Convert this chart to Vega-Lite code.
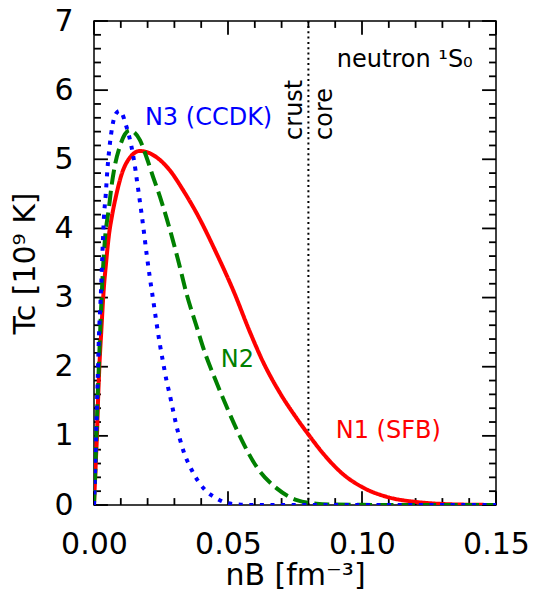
{
  "$schema": "https://vega.github.io/schema/vega-lite/v6.json",
  "width": 402,
  "height": 484,
  "autosize": "none",
  "padding": {"left": 94, "top": 21, "right": 38, "bottom": 89},
  "background": "white",
  "config": {
    "view": {"stroke": "black", "strokeWidth": 1.5},
    "font": "DejaVu Sans"
  },
  "datasets": {
    "curves": [
      {"n": 0, "T": 0, "model": "N1"},
      {"n": 0.0002, "T": 0.2, "model": "N1"},
      {"n": 0.0004, "T": 0.36, "model": "N1"},
      {"n": 0.0007, "T": 0.65, "model": "N1"},
      {"n": 0.0011, "T": 1.0, "model": "N1"},
      {"n": 0.0015, "T": 1.5, "model": "N1"},
      {"n": 0.002, "T": 2.0, "model": "N1"},
      {"n": 0.0027, "T": 2.5, "model": "N1"},
      {"n": 0.0036, "T": 3.1, "model": "N1"},
      {"n": 0.0045, "T": 3.5, "model": "N1"},
      {"n": 0.0055, "T": 3.88, "model": "N1"},
      {"n": 0.0069, "T": 4.22, "model": "N1"},
      {"n": 0.0084, "T": 4.5, "model": "N1"},
      {"n": 0.0102, "T": 4.77, "model": "N1"},
      {"n": 0.0133, "T": 5.02, "model": "N1"},
      {"n": 0.0171, "T": 5.12, "model": "N1"},
      {"n": 0.02, "T": 5.1, "model": "N1"},
      {"n": 0.0233, "T": 5.03, "model": "N1"},
      {"n": 0.0283, "T": 4.84, "model": "N1"},
      {"n": 0.0333, "T": 4.55, "model": "N1"},
      {"n": 0.0383, "T": 4.22, "model": "N1"},
      {"n": 0.0457, "T": 3.64, "model": "N1"},
      {"n": 0.052, "T": 3.1, "model": "N1"},
      {"n": 0.0582, "T": 2.5, "model": "N1"},
      {"n": 0.0632, "T": 2.06, "model": "N1"},
      {"n": 0.0694, "T": 1.62, "model": "N1"},
      {"n": 0.0757, "T": 1.25, "model": "N1"},
      {"n": 0.08, "T": 1.02, "model": "N1"},
      {"n": 0.0856, "T": 0.74, "model": "N1"},
      {"n": 0.0931, "T": 0.44, "model": "N1"},
      {"n": 0.1, "T": 0.26, "model": "N1"},
      {"n": 0.11, "T": 0.11, "model": "N1"},
      {"n": 0.12, "T": 0.045, "model": "N1"},
      {"n": 0.13, "T": 0.015, "model": "N1"},
      {"n": 0.14, "T": 0.004, "model": "N1"},
      {"n": 0.15, "T": 0.001, "model": "N1"},

      {"n": 0, "T": 0, "model": "N2"},
      {"n": 0.0002, "T": 0.2, "model": "N2"},
      {"n": 0.0004, "T": 0.4, "model": "N2"},
      {"n": 0.0007, "T": 0.75, "model": "N2"},
      {"n": 0.001, "T": 1.1, "model": "N2"},
      {"n": 0.0014, "T": 1.6, "model": "N2"},
      {"n": 0.0019, "T": 2.1, "model": "N2"},
      {"n": 0.0025, "T": 2.7, "model": "N2"},
      {"n": 0.0032, "T": 3.3, "model": "N2"},
      {"n": 0.004, "T": 3.8, "model": "N2"},
      {"n": 0.0056, "T": 4.31, "model": "N2"},
      {"n": 0.0065, "T": 4.6, "model": "N2"},
      {"n": 0.0077, "T": 4.89, "model": "N2"},
      {"n": 0.0096, "T": 5.18, "model": "N2"},
      {"n": 0.0115, "T": 5.36, "model": "N2"},
      {"n": 0.0133, "T": 5.42, "model": "N2"},
      {"n": 0.015, "T": 5.39, "model": "N2"},
      {"n": 0.0171, "T": 5.28, "model": "N2"},
      {"n": 0.0196, "T": 5.03, "model": "N2"},
      {"n": 0.0221, "T": 4.74, "model": "N2"},
      {"n": 0.0246, "T": 4.46, "model": "N2"},
      {"n": 0.0273, "T": 4.12, "model": "N2"},
      {"n": 0.0314, "T": 3.54, "model": "N2"},
      {"n": 0.0345, "T": 3.06, "model": "N2"},
      {"n": 0.0383, "T": 2.58, "model": "N2"},
      {"n": 0.0414, "T": 2.2, "model": "N2"},
      {"n": 0.045, "T": 1.84, "model": "N2"},
      {"n": 0.0495, "T": 1.42, "model": "N2"},
      {"n": 0.0545, "T": 0.99, "model": "N2"},
      {"n": 0.0607, "T": 0.55, "model": "N2"},
      {"n": 0.0682, "T": 0.24, "model": "N2"},
      {"n": 0.0757, "T": 0.07, "model": "N2"},
      {"n": 0.083, "T": 0.02, "model": "N2"},
      {"n": 0.09, "T": 0.006, "model": "N2"},
      {"n": 0.1, "T": 0.002, "model": "N2"},
      {"n": 0.15, "T": 0, "model": "N2"},

      {"n": 0, "T": 0, "model": "N3"},
      {"n": 0.0002, "T": 0.25, "model": "N3"},
      {"n": 0.0004, "T": 0.5, "model": "N3"},
      {"n": 0.0007, "T": 0.9, "model": "N3"},
      {"n": 0.001, "T": 1.3, "model": "N3"},
      {"n": 0.0014, "T": 1.85, "model": "N3"},
      {"n": 0.0018, "T": 2.4, "model": "N3"},
      {"n": 0.0025, "T": 3.0, "model": "N3"},
      {"n": 0.0031, "T": 3.6, "model": "N3"},
      {"n": 0.0037, "T": 4.15, "model": "N3"},
      {"n": 0.0044, "T": 4.5, "model": "N3"},
      {"n": 0.005, "T": 4.85, "model": "N3"},
      {"n": 0.0058, "T": 5.18, "model": "N3"},
      {"n": 0.0069, "T": 5.49, "model": "N3"},
      {"n": 0.0082, "T": 5.66, "model": "N3"},
      {"n": 0.0095, "T": 5.7, "model": "N3"},
      {"n": 0.0105, "T": 5.66, "model": "N3"},
      {"n": 0.0118, "T": 5.51, "model": "N3"},
      {"n": 0.013, "T": 5.35, "model": "N3"},
      {"n": 0.014, "T": 5.18, "model": "N3"},
      {"n": 0.0148, "T": 5.01, "model": "N3"},
      {"n": 0.0155, "T": 4.84, "model": "N3"},
      {"n": 0.0161, "T": 4.67, "model": "N3"},
      {"n": 0.0167, "T": 4.51, "model": "N3"},
      {"n": 0.0173, "T": 4.34, "model": "N3"},
      {"n": 0.0179, "T": 4.17, "model": "N3"},
      {"n": 0.0184, "T": 4.02, "model": "N3"},
      {"n": 0.0196, "T": 3.64, "model": "N3"},
      {"n": 0.0208, "T": 3.3, "model": "N3"},
      {"n": 0.0221, "T": 2.96, "model": "N3"},
      {"n": 0.0233, "T": 2.64, "model": "N3"},
      {"n": 0.0246, "T": 2.32, "model": "N3"},
      {"n": 0.0258, "T": 2.06, "model": "N3"},
      {"n": 0.027, "T": 1.81, "model": "N3"},
      {"n": 0.0283, "T": 1.59, "model": "N3"},
      {"n": 0.0295, "T": 1.37, "model": "N3"},
      {"n": 0.0308, "T": 1.14, "model": "N3"},
      {"n": 0.032, "T": 0.96, "model": "N3"},
      {"n": 0.0333, "T": 0.79, "model": "N3"},
      {"n": 0.0364, "T": 0.51, "model": "N3"},
      {"n": 0.0414, "T": 0.22, "model": "N3"},
      {"n": 0.0451, "T": 0.11, "model": "N3"},
      {"n": 0.0495, "T": 0.03, "model": "N3"},
      {"n": 0.055, "T": 0.005, "model": "N3"},
      {"n": 0.06, "T": 0.001, "model": "N3"},
      {"n": 0.15, "T": 0, "model": "N3"}
    ],
    "labels": [
      {"n": 0.019, "T": 5.49, "text": "N3 (CCDK)", "model": "N3"},
      {"n": 0.0473, "T": 2.0, "text": "N2", "model": "N2"},
      {"n": 0.0902, "T": 0.975, "text": "N1 (SFB)", "model": "N1"},
      {"n": 0.0906, "T": 6.33, "text": "neutron ¹S₀", "model": "other"}
    ],
    "vlabels": [
      {"n": 0.0777, "T": 5.28, "text": "crust", "model": "other"},
      {"n": 0.0888, "T": 5.28, "text": "core", "model": "other"}
    ],
    "divider": [
      {"n": 0.08, "T0": 0, "T1": 7}
    ],
    "xticks": [
      {"n": 0, "lo": 0, "hi": 0.2}, {"n": 0.01, "lo": 0, "hi": 0.1}, {"n": 0.02, "lo": 0, "hi": 0.1}, {"n": 0.03, "lo": 0, "hi": 0.1},
      {"n": 0.04, "lo": 0, "hi": 0.1}, {"n": 0.05, "lo": 0, "hi": 0.2}, {"n": 0.06, "lo": 0, "hi": 0.1}, {"n": 0.07, "lo": 0, "hi": 0.1},
      {"n": 0.08, "lo": 0, "hi": 0.1}, {"n": 0.09, "lo": 0, "hi": 0.1}, {"n": 0.1, "lo": 0, "hi": 0.2}, {"n": 0.11, "lo": 0, "hi": 0.1},
      {"n": 0.12, "lo": 0, "hi": 0.1}, {"n": 0.13, "lo": 0, "hi": 0.1}, {"n": 0.14, "lo": 0, "hi": 0.1}, {"n": 0.15, "lo": 0, "hi": 0.2},
      {"n": 0, "lo": 7, "hi": 6.8}, {"n": 0.01, "lo": 7, "hi": 6.9}, {"n": 0.02, "lo": 7, "hi": 6.9}, {"n": 0.03, "lo": 7, "hi": 6.9},
      {"n": 0.04, "lo": 7, "hi": 6.9}, {"n": 0.05, "lo": 7, "hi": 6.8}, {"n": 0.06, "lo": 7, "hi": 6.9}, {"n": 0.07, "lo": 7, "hi": 6.9},
      {"n": 0.08, "lo": 7, "hi": 6.9}, {"n": 0.09, "lo": 7, "hi": 6.9}, {"n": 0.1, "lo": 7, "hi": 6.8}, {"n": 0.11, "lo": 7, "hi": 6.9},
      {"n": 0.12, "lo": 7, "hi": 6.9}, {"n": 0.13, "lo": 7, "hi": 6.9}, {"n": 0.14, "lo": 7, "hi": 6.9}, {"n": 0.15, "lo": 7, "hi": 6.8}
    ],
    "yticks": [
      {"T": 0, "lo": 0, "hi": 0.0052}, {"T": 0.2, "lo": 0, "hi": 0.0026}, {"T": 0.4, "lo": 0, "hi": 0.0026}, {"T": 0.6, "lo": 0, "hi": 0.0026}, {"T": 0.8, "lo": 0, "hi": 0.0026},
      {"T": 1, "lo": 0, "hi": 0.0052}, {"T": 1.2, "lo": 0, "hi": 0.0026}, {"T": 1.4, "lo": 0, "hi": 0.0026}, {"T": 1.6, "lo": 0, "hi": 0.0026}, {"T": 1.8, "lo": 0, "hi": 0.0026},
      {"T": 2, "lo": 0, "hi": 0.0052}, {"T": 2.2, "lo": 0, "hi": 0.0026}, {"T": 2.4, "lo": 0, "hi": 0.0026}, {"T": 2.6, "lo": 0, "hi": 0.0026}, {"T": 2.8, "lo": 0, "hi": 0.0026},
      {"T": 3, "lo": 0, "hi": 0.0052}, {"T": 3.2, "lo": 0, "hi": 0.0026}, {"T": 3.4, "lo": 0, "hi": 0.0026}, {"T": 3.6, "lo": 0, "hi": 0.0026}, {"T": 3.8, "lo": 0, "hi": 0.0026},
      {"T": 4, "lo": 0, "hi": 0.0052}, {"T": 4.2, "lo": 0, "hi": 0.0026}, {"T": 4.4, "lo": 0, "hi": 0.0026}, {"T": 4.6, "lo": 0, "hi": 0.0026}, {"T": 4.8, "lo": 0, "hi": 0.0026},
      {"T": 5, "lo": 0, "hi": 0.0052}, {"T": 5.2, "lo": 0, "hi": 0.0026}, {"T": 5.4, "lo": 0, "hi": 0.0026}, {"T": 5.6, "lo": 0, "hi": 0.0026}, {"T": 5.8, "lo": 0, "hi": 0.0026},
      {"T": 6, "lo": 0, "hi": 0.0052}, {"T": 6.2, "lo": 0, "hi": 0.0026}, {"T": 6.4, "lo": 0, "hi": 0.0026}, {"T": 6.6, "lo": 0, "hi": 0.0026}, {"T": 6.8, "lo": 0, "hi": 0.0026},
      {"T": 7, "lo": 0, "hi": 0.0052},
      {"T": 0, "lo": 0.15, "hi": 0.1448}, {"T": 0.2, "lo": 0.15, "hi": 0.1474}, {"T": 0.4, "lo": 0.15, "hi": 0.1474}, {"T": 0.6, "lo": 0.15, "hi": 0.1474}, {"T": 0.8, "lo": 0.15, "hi": 0.1474},
      {"T": 1, "lo": 0.15, "hi": 0.1448}, {"T": 1.2, "lo": 0.15, "hi": 0.1474}, {"T": 1.4, "lo": 0.15, "hi": 0.1474}, {"T": 1.6, "lo": 0.15, "hi": 0.1474}, {"T": 1.8, "lo": 0.15, "hi": 0.1474},
      {"T": 2, "lo": 0.15, "hi": 0.1448}, {"T": 2.2, "lo": 0.15, "hi": 0.1474}, {"T": 2.4, "lo": 0.15, "hi": 0.1474}, {"T": 2.6, "lo": 0.15, "hi": 0.1474}, {"T": 2.8, "lo": 0.15, "hi": 0.1474},
      {"T": 3, "lo": 0.15, "hi": 0.1448}, {"T": 3.2, "lo": 0.15, "hi": 0.1474}, {"T": 3.4, "lo": 0.15, "hi": 0.1474}, {"T": 3.6, "lo": 0.15, "hi": 0.1474}, {"T": 3.8, "lo": 0.15, "hi": 0.1474},
      {"T": 4, "lo": 0.15, "hi": 0.1448}, {"T": 4.2, "lo": 0.15, "hi": 0.1474}, {"T": 4.4, "lo": 0.15, "hi": 0.1474}, {"T": 4.6, "lo": 0.15, "hi": 0.1474}, {"T": 4.8, "lo": 0.15, "hi": 0.1474},
      {"T": 5, "lo": 0.15, "hi": 0.1448}, {"T": 5.2, "lo": 0.15, "hi": 0.1474}, {"T": 5.4, "lo": 0.15, "hi": 0.1474}, {"T": 5.6, "lo": 0.15, "hi": 0.1474}, {"T": 5.8, "lo": 0.15, "hi": 0.1474},
      {"T": 6, "lo": 0.15, "hi": 0.1448}, {"T": 6.2, "lo": 0.15, "hi": 0.1474}, {"T": 6.4, "lo": 0.15, "hi": 0.1474}, {"T": 6.6, "lo": 0.15, "hi": 0.1474}, {"T": 6.8, "lo": 0.15, "hi": 0.1474},
      {"T": 7, "lo": 0.15, "hi": 0.1448}
    ]
  },
  "resolve": {"axis": {"x": "independent", "y": "independent"}},
  "layer": [
    {
      "data": {"name": "divider"},
      "mark": {"type": "rule", "color": "black", "strokeWidth": 2, "strokeDash": [2, 3.3]},
      "encoding": {
        "x": {"field": "n", "type": "quantitative", "scale": {"domain": [0, 0.15], "nice": false, "zero": false}, "axis": null},
        "y": {"field": "T0", "type": "quantitative", "scale": {"domain": [0, 7], "nice": false, "zero": false}, "axis": null},
        "y2": {"field": "T1"}
      }
    },
    {
      "data": {"name": "xticks"},
      "mark": {"type": "rule", "color": "black", "strokeWidth": 1.8},
      "encoding": {
        "x": {"field": "n", "type": "quantitative", "axis": null},
        "y": {"field": "lo", "type": "quantitative", "axis": null},
        "y2": {"field": "hi"}
      }
    },
    {
      "data": {"name": "yticks"},
      "mark": {"type": "rule", "color": "black", "strokeWidth": 1.8},
      "encoding": {
        "y": {"field": "T", "type": "quantitative", "axis": null},
        "x": {"field": "lo", "type": "quantitative", "axis": null},
        "x2": {"field": "hi"}
      }
    },
    {
      "data": {"name": "curves"},
      "mark": {"type": "line", "strokeWidth": 4, "strokeCap": "butt", "interpolate": "monotone", "clip": true},
      "encoding": {
        "x": {
          "field": "n", "type": "quantitative",
          "axis": {
            "orient": "bottom",
            "values": [0, 0.05, 0.1, 0.15],
            "format": ".2f",
            "labelFlush": false, "labelOverlap": false, "labelBound": false,
            "labelFontSize": 30, "labelColor": "black", "labelPadding": 24,
            "ticks": false, "tickSize": 0,
            "domain": false, "grid": false,
            "title": "nB [fm⁻³]", "titleFontSize": 30, "titleFontWeight": "normal", "titleColor": "black", "titlePadding": 1
          }
        },
        "y": {
          "field": "T", "type": "quantitative",
          "axis": {
            "orient": "left",
            "values": [0, 1, 2, 3, 4, 5, 6, 7],
            "format": ".0f",
            "labelFlush": false, "labelOverlap": false, "labelBound": false,
            "labelFontSize": 30, "labelColor": "black", "labelPadding": 21,
            "ticks": false, "tickSize": 0,
            "domain": false, "grid": false,
            "title": "Tc [10⁹ K]", "titleFontSize": 30, "titleFontWeight": "normal", "titleColor": "black", "titlePadding": 13
          }
        },
        "color": {"field": "model", "type": "nominal", "scale": {"domain": ["N1", "N2", "N3", "other"], "range": ["#ff0000", "#008000", "#0000ff", "#000000"]}, "legend": null},
        "strokeDash": {"field": "model", "type": "nominal", "scale": {"domain": ["N1", "N2", "N3"], "range": [[1, 0], [15, 6.4], [4, 6.6]]}, "legend": null}
      }
    },
    {
      "data": {"name": "labels"},
      "mark": {"type": "text", "align": "left", "baseline": "alphabetic", "fontSize": 24, "font": "DejaVu Sans"},
      "encoding": {
        "x": {"field": "n", "type": "quantitative", "axis": null},
        "y": {"field": "T", "type": "quantitative", "axis": null},
        "text": {"field": "text"},
        "color": {"field": "model", "type": "nominal", "legend": null}
      }
    },
    {
      "data": {"name": "vlabels"},
      "mark": {"type": "text", "align": "left", "baseline": "alphabetic", "angle": 270, "fontSize": 24, "font": "DejaVu Sans"},
      "encoding": {
        "x": {"field": "n", "type": "quantitative", "axis": null},
        "y": {"field": "T", "type": "quantitative", "axis": null},
        "text": {"field": "text"},
        "color": {"field": "model", "type": "nominal", "legend": null}
      }
    }
  ]
}
